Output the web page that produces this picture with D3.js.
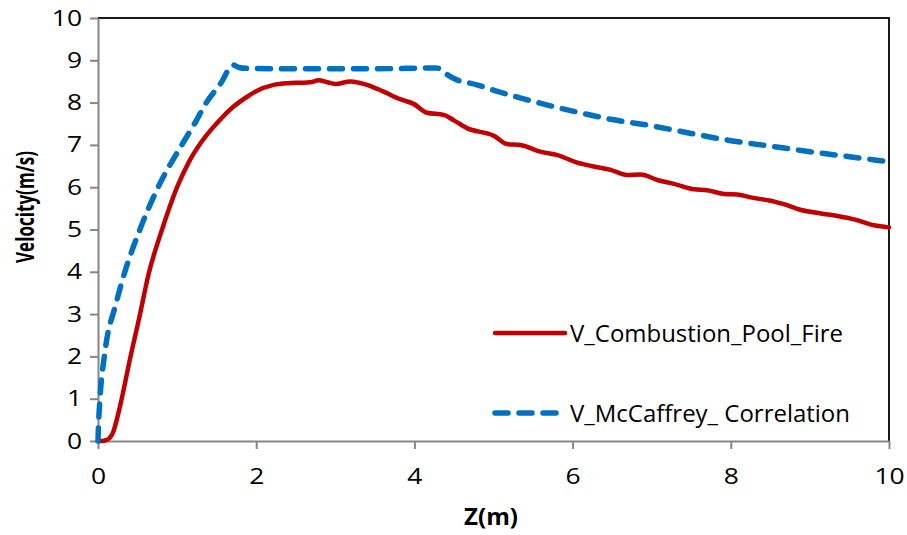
<!DOCTYPE html>
<html>
<head>
<meta charset="utf-8">
<script src="https://cdn.jsdelivr.net/npm/d3@7"></script>
<style>
  body { margin: 0; background: #fff; }
  text { font-family: "Open Sans", sans-serif; fill: #000; }
</style>
</head>
<body>
<svg id="chart-svg" width="907" height="535"></svg>
<script>
// Z (m) and velocity (m/s)
const combustionZ = [0, 0.05, 0.1, 0.15, 0.19, 0.22, 0.25, 0.3, 0.4, 0.52, 0.64, 0.81, 1.0, 1.15, 1.3, 1.54, 1.71, 1.92, 2.0, 2.22, 2.4, 2.56, 2.68, 2.79, 2.9, 3.0, 3.19, 3.3, 3.4, 3.61, 3.82, 3.99, 4.16, 4.37, 4.5, 4.67, 4.92, 5.0, 5.17, 5.34, 5.59, 5.81, 6.06, 6.35, 6.48, 6.69, 6.86, 7.07, 7.28, 7.54, 7.7, 7.92, 8.08, 8.25, 8.55, 8.67, 8.89, 9.14, 9.35, 9.56, 9.81, 10.0];
const combustionV = [0, 0, 0.02, 0.08, 0.2, 0.38, 0.6, 1.0, 1.9, 2.9, 3.95, 5.0, 6.0, 6.6, 7.05, 7.59, 7.9, 8.18, 8.27, 8.42, 8.46, 8.47, 8.48, 8.53, 8.48, 8.44, 8.5, 8.47, 8.42, 8.26, 8.08, 7.97, 7.76, 7.71, 7.58, 7.39, 7.27, 7.22, 7.02, 7.0, 6.84, 6.76, 6.58, 6.46, 6.41, 6.29, 6.3, 6.17, 6.08, 5.95, 5.93, 5.84, 5.83, 5.76, 5.66, 5.6, 5.46, 5.38, 5.32, 5.24, 5.1, 5.05];

const mccaffreyZ = [0, 0.005, 0.025, 0.08, 0.13, 0.19, 0.34, 0.53, 0.76, 1.06, 1.22, 1.37, 1.55, 1.71, 1.78, 1.88, 2.5, 3.5, 4.28, 4.4, 4.5, 4.79, 5.06, 5.36, 6.0, 6.5, 7.0, 7.5, 8.0, 8.5, 9.0, 9.5, 10.0];
const mccaffreyV = [0, 0.3, 1.0, 2.0, 2.6, 3.0, 4.0, 5.0, 6.0, 7.0, 7.5, 8.0, 8.45, 8.89, 8.83, 8.81, 8.8, 8.8, 8.82, 8.68, 8.57, 8.42, 8.26, 8.1, 7.8, 7.6, 7.45, 7.27, 7.1, 6.97, 6.84, 6.72, 6.6];

const xTicks = [0, 2, 4, 6, 8, 10];
const yTicks = [0, 1, 2, 3, 4, 5, 6, 7, 8, 9, 10];
const seriesNames = ["V_Combustion_Pool_Fire", "V_McCaffrey_ Correlation"];

const width = 907;
const height = 535;
const margin = {top: 18, right: 18, bottom: 94, left: 98};

const svg = d3.select("#chart-svg");

const x = d3.scaleLinear().domain([0, 10]).range([margin.left, width - margin.right]);
const y = d3.scaleLinear().domain([0, 10]).range([height - margin.bottom, margin.top]);

/**
 * Widen text a bit, the original font is broader than Open Sans
 */
function widen(selection, k) {
  selection.each(function() {
    const w = this.getComputedTextLength();
    d3.select(this)
      .attr("textLength", w * k)
      .attr("lengthAdjust", "spacingAndGlyphs");
  });
}

/**
 * Axes and plot frame
 */
function renderAxes() {
  // top and right border of the plot area
  svg.append("path")
    .attr("d", "M" + x(0) + "," + y(10) + "H" + x(10) + "V" + y(0))
    .attr("fill", "none")
    .attr("stroke", "#1a1a1a")
    .attr("stroke-width", 2);

  const gy = svg.append("g")
    .attr("transform", "translate(" + x(0) + ",0)")
    .call(d3.axisLeft(y).tickValues(yTicks).tickSize(8).tickSizeOuter(0).tickPadding(8));

  const gx = svg.append("g")
    .attr("transform", "translate(0," + y(0) + ")")
    .call(d3.axisBottom(x).tickValues(xTicks).tickSize(8).tickSizeOuter(0).tickPadding(19));

  [gx, gy].forEach(g => {
    g.select(".domain").attr("stroke", "#868686").attr("stroke-width", 2);
    g.selectAll(".tick line").attr("stroke", "#868686").attr("stroke-width", 2);
    g.selectAll(".tick text")
      .attr("font-family", "Open Sans, sans-serif")
      .attr("font-size", 22)
      .attr("fill", "#000")
      .call(widen, 1.2);
  });

  svg.append("text")
    .attr("transform", "translate(34," + 207 + ") rotate(-90)")
    .attr("text-anchor", "middle")
    .attr("font-size", 25)
    .attr("font-weight", "bold")
    .attr("textLength", 112)
    .attr("lengthAdjust", "spacingAndGlyphs")
    .text("Velocity(m/s)");

  svg.append("text")
    .attr("x", 491)
    .attr("y", 525)
    .attr("text-anchor", "middle")
    .attr("font-size", 24)
    .attr("font-weight", "bold")
    .attr("textLength", 54)
    .attr("lengthAdjust", "spacingAndGlyphs")
    .text("Z(m)");
}

/**
 * Both series
 */
function renderLines() {
  const line = d3.line()
    .x(d => x(d[0]))
    .y(d => y(d[1]))
    .curve(d3.curveMonotoneX);

  svg.append("path")
    .datum(d3.zip(combustionZ, combustionV))
    .attr("fill", "none")
    .attr("stroke", "#c00000")
    .attr("stroke-width", 4.5)
    .attr("stroke-linejoin", "round")
    .attr("stroke-linecap", "round")
    .attr("d", line);

  svg.append("path")
    .datum(d3.zip(mccaffreyZ, mccaffreyV))
    .attr("fill", "none")
    .attr("stroke", "#0070c0")
    .attr("stroke-width", 5.5)
    .attr("stroke-dasharray", "13,11")
    .attr("stroke-linejoin", "round")
    .attr("stroke-linecap", "round")
    .attr("d", line);
}

/**
 * Legend inside the plot, lower right
 */
function renderLegend() {
  const items = [
    {name: seriesNames[0], color: "#c00000", dash: null, width: 4.5, y: 333, x2: 565, len: 273},
    {name: seriesNames[1], color: "#0070c0", dash: "13,11", width: 5.5, y: 413, x2: 558, len: 280}
  ];

  const g = svg.append("g").attr("class", "legend");

  const rows = g.selectAll("g").data(items).enter().append("g");

  rows.append("line")
    .attr("x1", 495)
    .attr("x2", d => d.x2)
    .attr("y1", d => d.y)
    .attr("y2", d => d.y)
    .attr("stroke", d => d.color)
    .attr("stroke-width", d => d.width)
    .attr("stroke-linecap", "round")
    .attr("stroke-dasharray", d => d.dash);

  rows.append("text")
    .attr("x", 570)
    .attr("y", d => d.y + 9)
    .attr("font-size", 23)
    .attr("textLength", d => d.len)
    .attr("lengthAdjust", "spacingAndGlyphs")
    .text(d => d.name);
}

renderAxes();
renderLines();
renderLegend();
</script>
</body>
</html>
